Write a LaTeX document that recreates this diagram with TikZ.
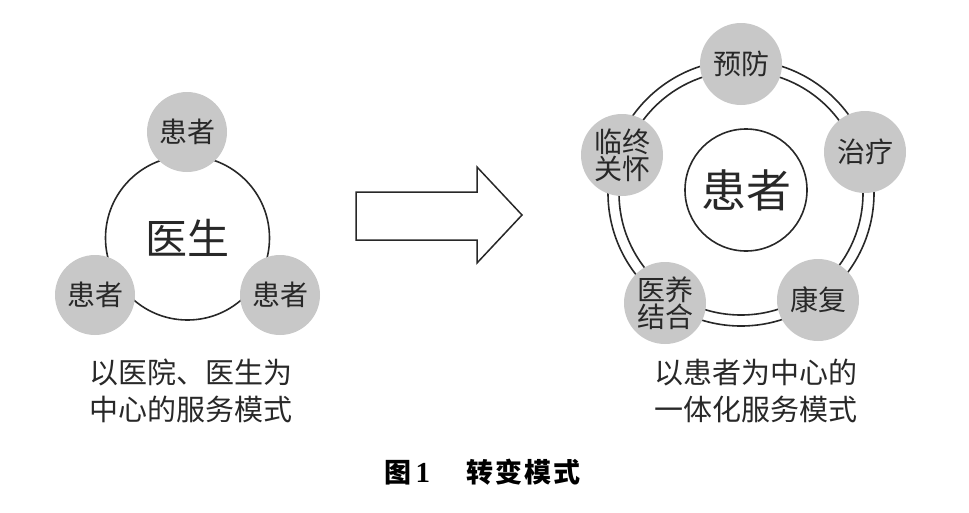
\documentclass[tikz,border=0pt]{standalone}
\usepackage{fontspec}
\newfontfamily\cjk{Noto Sans CJK SC}
\newfontfamily\numfont{Liberation Serif}
\definecolor{ballgray}{RGB}{200,200,200}
\definecolor{inkc}{RGB}{40,40,40}
\begin{document}
\begin{tikzpicture}[x=1pt,y=-1pt,
  every node/.style={text=inkc},
  hub/.style={circle,draw=inkc,line width=1.6pt,inner sep=0pt,fill=white},
  ball/.style={circle,fill=ballgray,inner sep=0pt,minimum size=82pt,align=center,
     font=\cjk\fontsize{28}{27}\selectfont},
  ringline/.style={draw=inkc,line width=1.6pt},
  caplabel/.style={align=center,font=\cjk\fontsize{29}{37}\selectfont}]
\useasboundingbox (0,0) rectangle (969,512);
% left figure
\node[hub,minimum size=164pt,font=\cjk\fontsize{42}{42}\selectfont] (doc) at (187.5,238) {医生};
\node[ball,minimum size=80pt] (pa) at (187,132) {患者};
\node[ball,minimum size=80pt] (pb) at (95,295) {患者};
\node[ball,minimum size=80pt] (pc) at (280,295) {患者};
\node[caplabel] (lt) at (191,391) {以医院、医生为\\中心的服务模式};
% arrow
\coordinate (a1) at (356,192);
\coordinate (a2) at (477,192);
\coordinate (a3) at (477,167);
\coordinate (a4) at (522,215);
\coordinate (a5) at (477,263);
\coordinate (a6) at (477,240);
\coordinate (a7) at (356,240);
\draw[draw=inkc,line width=1.5pt,line join=miter] (a1) -- (a2) -- (a3) -- (a4) -- (a5) -- (a6) -- (a7) -- cycle;
% right figure
\coordinate (ctr) at (741,193);
\draw[ringline] (ctr) circle[radius=133];
\draw[ringline] (ctr) circle[radius=122];
\node[hub,minimum size=122pt,font=\cjk\fontsize{45}{45}\selectfont] (pt) at (746,190) {患者};
\node[ball] (b1) at (741,64) {预防};
\node[ball] (b2) at (865,152) {治疗};
\node[ball] (b3) at (818,300) {康复};
\node[ball] (b4) at (665,303) {医养\\结合};
\node[ball] (b5) at (622,155) {临终\\关怀};
\node[caplabel] (rt) at (756,391) {以患者为中心的\\一体化服务模式};
% caption
\node[font=\cjk\bfseries\fontsize{27}{27}\selectfont,text=black,anchor=west] (cap) at (381,472)
  {图\hspace{4pt}{\numfont\bfseries\fontsize{29}{29}\selectfont 1}\hspace{36pt}转\hspace{2pt}变\hspace{2pt}模\hspace{2pt}式};
\end{tikzpicture}
\end{document}
